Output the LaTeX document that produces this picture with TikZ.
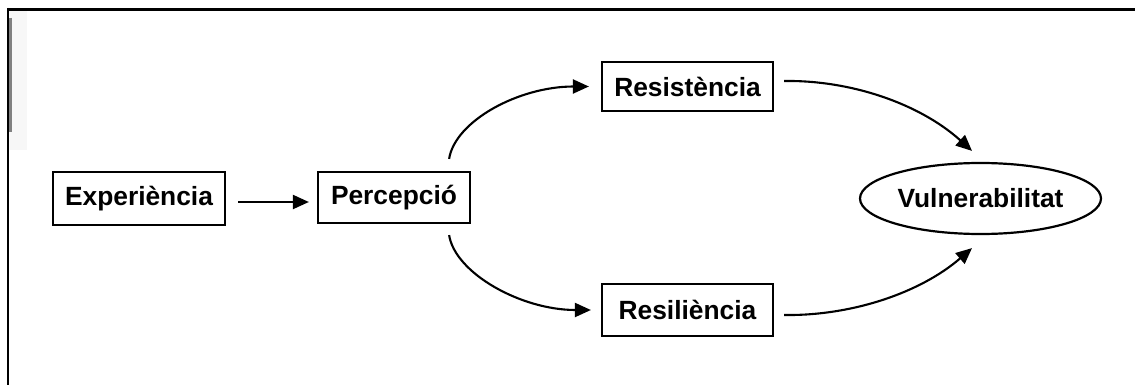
\documentclass[tikz,border=0pt]{standalone}
\usepackage{fontspec}
\setmainfont{Liberation Sans}
\usetikzlibrary{arrows.meta,shapes.geometric}
\newdimen\pxu \pxu=0.02cm
\begin{document}
\begin{tikzpicture}[x=0.02cm,y=-0.02cm,
  lbl/.style={font=\fontsize{15}{17}\selectfont\bfseries},
  box/.style={draw,line width=2.2\pxu,lbl,inner sep=0pt},
  arr/.style={line width=2.1\pxu,-{Triangle[length=0.32cm,width=0.28cm]}}]
\useasboundingbox (0,0) rectangle (1135,385);
\fill[white] (0,0) rectangle (1135,385);
\fill[black!3] (9,10) rectangle (27,150);
\draw[line width=3\pxu] (7,9.3) -- (1135,9.3);
\draw[line width=2.5\pxu] (8,8) -- (8,385);
\draw[gray,line width=2.5\pxu] (10.3,18) -- (10.3,132);

\node[box,minimum width=172\pxu,minimum height=53\pxu] (exp) at (139,198.5) {Experiència};
\node[box,minimum width=152\pxu,minimum height=51\pxu] (perc) at (394,197.5) {Percepció};
\node[box,minimum width=171\pxu,minimum height=49\pxu] (res) at (687.5,86.5) {Resistència};
\node[box,minimum width=171\pxu,minimum height=52\pxu] (resil) at (687.5,310) {Resiliència};
\node[draw,ellipse,line width=2.2\pxu,lbl,minimum width=241\pxu,minimum height=71\pxu,inner sep=0pt] (vul) at (980.5,198.5) {Vulnerabilitat};

\draw[arr] ([shift={(12,3.5)}]exp.east) -- ([shift={(-8,4.5)}]perc.west);
\draw[arr] ([shift={(-22,-12)}]perc.north east) .. controls +(6,-38) and +(-70,0) .. ([shift={(-12,0)}]res.west);
\draw[arr] ([shift={(-22,11)}]perc.south east) .. controls +(6,38) and +(-70,0) .. ([shift={(-10,0)}]resil.west);
\draw[arr] ([shift={(10,-5.5)}]res.east) .. controls +(67,-1) and +(-52,-47) .. ([shift={(-8.5,-11)}]vul.north);
\draw[arr] ([shift={(10,5)}]resil.east) .. controls +(67,1) and +(-52,45) .. ([shift={(-8.5,13)}]vul.south);
\end{tikzpicture}
\end{document}
